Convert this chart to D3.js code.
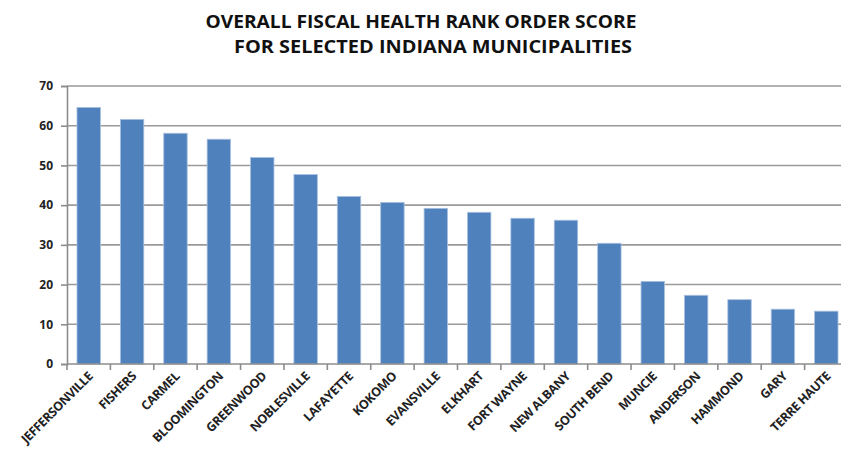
<!DOCTYPE html>
<html>
<head>
<meta charset="utf-8">
<script src="https://cdn.jsdelivr.net/npm/d3@7"></script>
<style>
  html, body { margin: 0; padding: 0; background: #fff; }
  svg { display: block; }
</style>
</head>
<body>
<svg id="chart" width="841" height="461"></svg>
<script>
// Overall fiscal health rank order score, by municipality
const cities = [
  "JEFFERSONVILLE", "FISHERS", "CARMEL", "BLOOMINGTON", "GREENWOOD", "NOBLESVILLE",
  "LAFAYETTE", "KOKOMO", "EVANSVILLE", "ELKHART", "FORT WAYNE", "NEW ALBANY",
  "SOUTH BEND", "MUNCIE", "ANDERSON", "HAMMOND", "GARY", "TERRE HAUTE"
];
const scores = [
  64.6, 61.6, 58.1, 56.6, 52.0, 47.7,
  42.2, 40.7, 39.2, 38.2, 36.7, 36.2,
  30.4, 20.8, 17.3, 16.2, 13.8, 13.3
];
const yTicks = [0, 10, 20, 30, 40, 50, 60, 70];
const titleLines = ["OVERALL FISCAL HEALTH RANK ORDER SCORE", "FOR SELECTED INDIANA MUNICIPALITIES"];

const svg = d3.select("#chart");
const plotLeft = 67, plotRight = 848, plotTop = 86, plotBottom = 364;

const x = d3.scaleBand().domain(cities).range([plotLeft, plotRight]).paddingInner(0.46).paddingOuter(0.23);
const y = d3.scaleLinear().domain([0, 70]).range([plotBottom, plotTop]);

// Two-line title
const titleLayout = [{ cx: 421, base: 28, len: 431 }, { cx: 433, base: 53, len: 398 }];
svg.append("g").selectAll("text").data(titleLines).join("text")
  .attr("x", (d, i) => titleLayout[i].cx)
  .attr("y", (d, i) => titleLayout[i].base)
  .attr("text-anchor", "middle")
  .attr("font-family", "'Open Sans', sans-serif")
  .attr("font-weight", 700)
  .attr("font-size", 17)
  .attr("fill", "#111")
  .attr("textLength", (d, i) => titleLayout[i].len)
  .attr("lengthAdjust", "spacingAndGlyphs")
  .text(d => d);

// Horizontal gridlines
svg.append("g").selectAll("line").data(yTicks.filter(t => t > 0)).join("line")
  .attr("x1", plotLeft).attr("x2", 841)
  .attr("y1", d => y(d)).attr("y2", d => y(d))
  .attr("stroke", "#9a9a9a").attr("stroke-width", 1.6);

// Bars
svg.append("g").selectAll("rect").data(cities).join("rect")
  .attr("x", d => x(d))
  .attr("width", x.bandwidth())
  .attr("y", (d, i) => y(scores[i]))
  .attr("height", (d, i) => y(0) - y(scores[i]))
  .attr("fill", "#4f81bd")
  .attr("stroke", "#a9c1e0").attr("stroke-width", 0.8);

// Y axis
const yAxis = d3.axisLeft(y).tickValues(yTicks).tickSize(6).tickPadding(8);
const gy = svg.append("g").attr("transform", `translate(${plotLeft},0)`).call(yAxis);
gy.select(".domain").attr("stroke", "#8c8c8c").attr("stroke-width", 1.6);
gy.selectAll(".tick line").attr("stroke", "#8c8c8c").attr("stroke-width", 1.6);
gy.selectAll(".tick text")
  .attr("font-family", "'Open Sans', sans-serif")
  .attr("font-weight", 700).attr("font-size", 12).attr("fill", "#222");

// X axis baseline and ticks at category boundaries
const step = x.step();
const boundaries = d3.range(cities.length + 1).map(i => plotLeft + i * step);
svg.append("line")
  .attr("x1", plotLeft).attr("x2", 841)
  .attr("y1", plotBottom).attr("y2", plotBottom)
  .attr("stroke", "#8c8c8c").attr("stroke-width", 1.6);
svg.append("g").selectAll("line").data(boundaries).join("line")
  .attr("x1", d => d).attr("x2", d => d)
  .attr("y1", plotBottom).attr("y2", plotBottom + 6)
  .attr("stroke", "#8c8c8c").attr("stroke-width", 1.6);

// Category labels, rotated
svg.append("g").selectAll("text").data(cities).join("text")
  .attr("transform", d => `translate(${x(d) + x.bandwidth() / 2 + 5},${plotBottom + 13}) rotate(-45)`)
  .attr("text-anchor", "end")
  .attr("font-family", "'Open Sans', sans-serif")
  .attr("font-weight", 700)
  .attr("font-size", 12.5)
  .attr("letter-spacing", -0.4)
  .attr("fill", "#222")
  .text(d => d);
</script>
</body>
</html>
